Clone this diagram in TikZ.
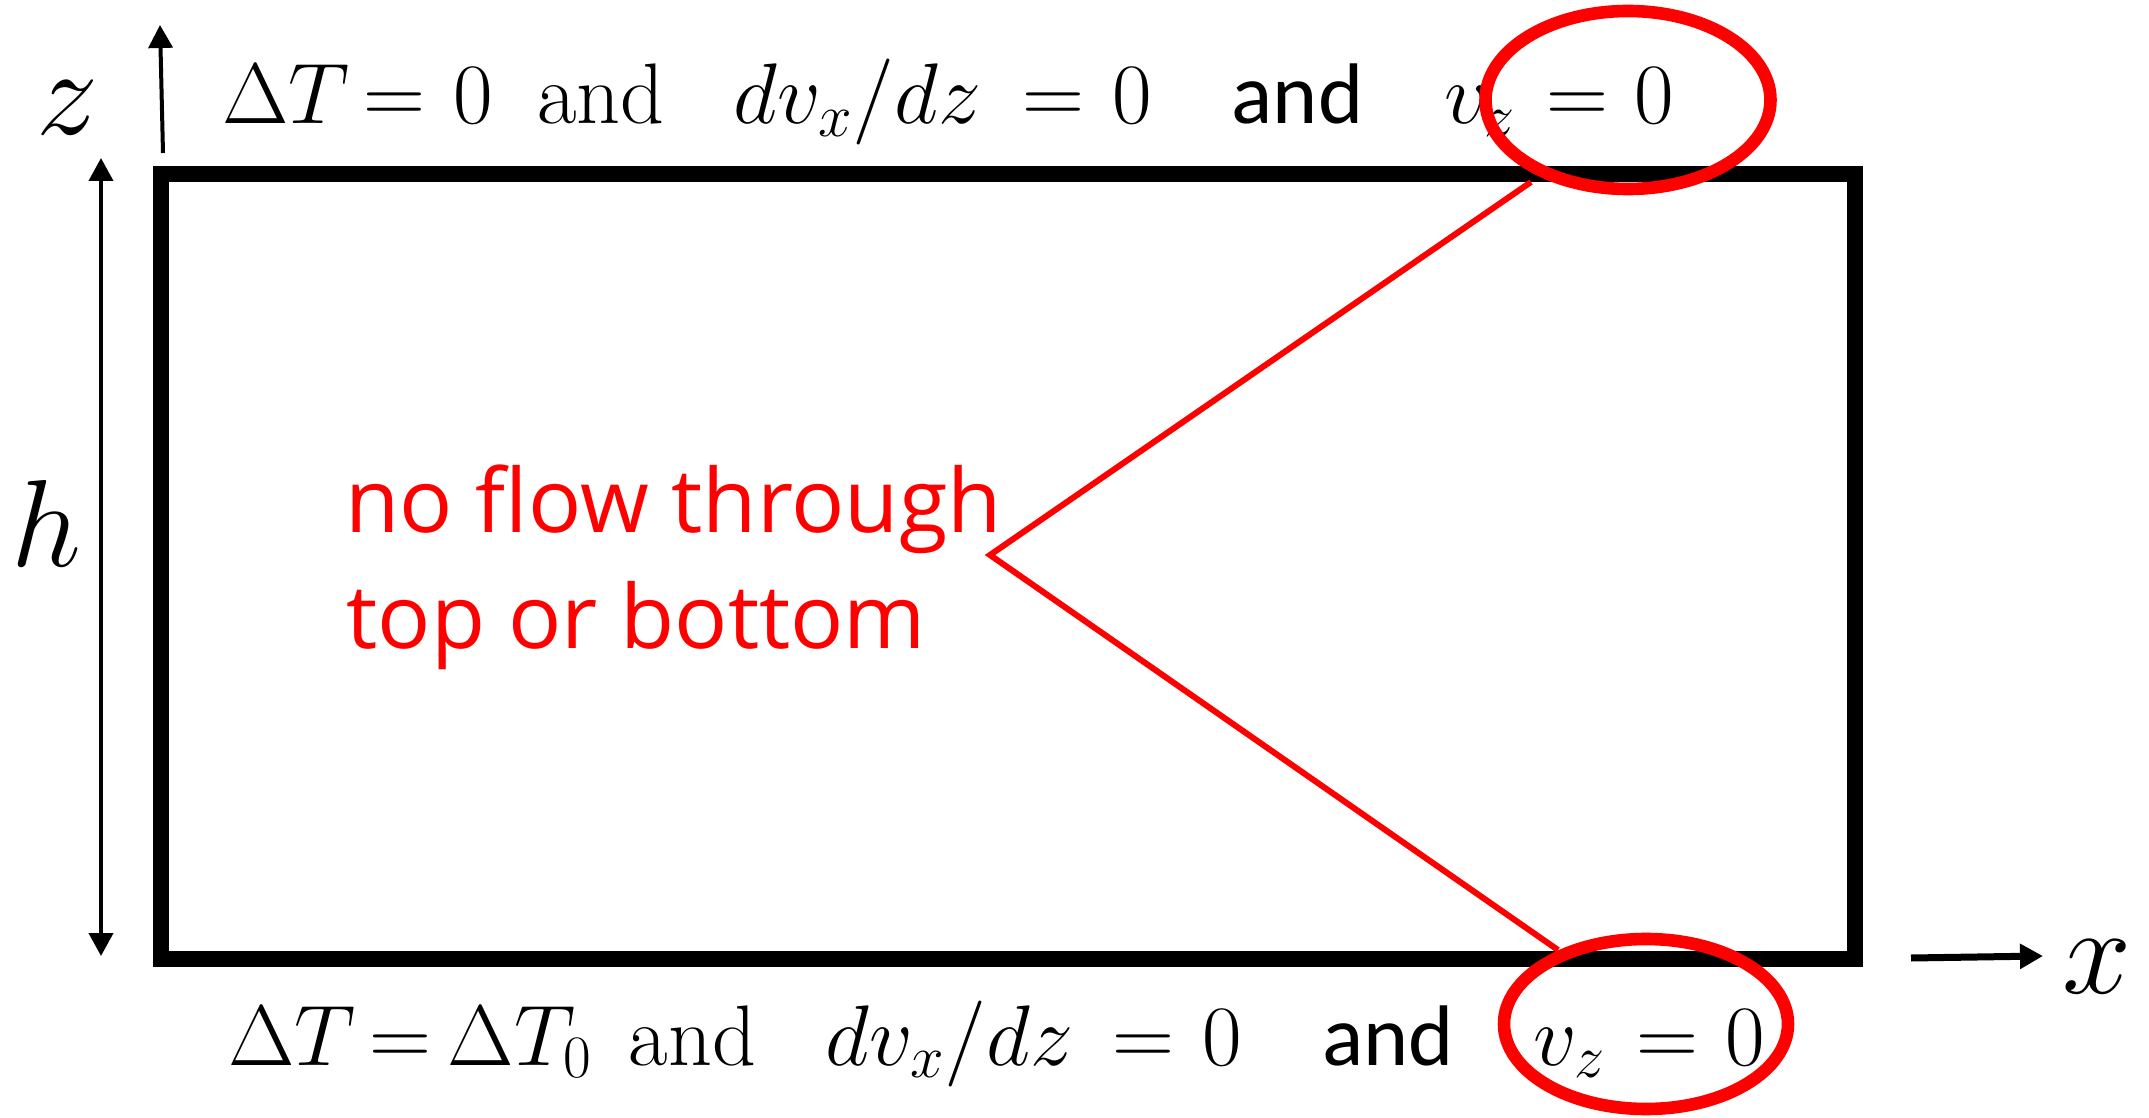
\RequirePackage{fix-cm}
\documentclass[tikz,border=0pt]{standalone}
\usepackage[no-math]{fontspec}
\newfontfamily\andfont{Carlito}
\newfontfamily\redfont{Open Sans}
\usetikzlibrary{arrows.meta}
\tikzset{
  eq/.style={inner sep=0pt, anchor=base, font=\fontsize{43}{50}\selectfont},
  sand/.style={inner sep=0pt, anchor=base, font=\andfont\fontsize{43}{50}\selectfont},
  lbl/.style={inner sep=0pt, anchor=base, font=\fontsize{62}{70}\selectfont},
  redtxt/.style={inner sep=0pt, anchor=base west, text=red, font=\redfont\fontsize{44.2}{58}\selectfont},
  wall/.style={line width=8pt, line join=miter},
  axis/.style={line width=2pt, -{Triangle[length=11.5pt,width=12pt]}},
  axisboth/.style={line width=2pt, {Triangle[length=11.5pt,width=12pt]}-{Triangle[length=11.5pt,width=12pt]}},
  xaxis/.style={line width=3.5pt, -{Triangle[length=11.5pt,width=12pt]}},
  redline/.style={red, line width=3pt, line join=miter},
  ring/.style={red, line width=6.3pt}
}
\begin{document}
\begin{tikzpicture}[x=0.5pt,y=-0.5pt]
\fill[white] (0,0) rectangle (2149,1118);
\useasboundingbox (0,0) rectangle (2149,1118);

% box
\coordinate (bl) at (161,959);
\coordinate (tr) at (1855,174);
\draw[wall] (bl) rectangle (tr);

% axes
\coordinate (zs) at (163,153);
\coordinate (ze) at (160,25);
\draw[axis] (zs) -- (ze);
\coordinate (hs) at (101,158);
\coordinate (he) at (101,956);
\draw[axisboth] (hs) -- (he);
\coordinate (xs) at (1911,958);
\coordinate (xe) at (2043,956);
\draw[xaxis] (xs) -- (xe);

\node[lbl] (zl) at (67,135) {$z$};
\node[lbl] (hl) at (46,566) {$h$};
\node[lbl] (xl) at (2097,993) {$x$};

% top line
\node[eq] (t1) at (286,124) {$\Delta T$};
\node[eq] (t2) at (394.5,124) {$=$};
\node[eq] (t3) at (473.5,124) {$0$};
\node[eq] (t4) at (601,124) {and};
\node[eq] (t5) at (857.5,124) {$dv_x/dz$};
\node[eq] (t6) at (1053,124) {$=$};
\node[eq] (t7) at (1132,124) {$0$};
\node[sand] (t8) at (1297.5,124) {and};
\node[eq] (t9) at (1480,124) {$v_z$};
\node[eq] (t10) at (1577.5,124) {$=$};
\node[eq] (t11) at (1654,124) {$0$};

% bottom line
\node[eq] (b1) at (292,1065) {$\Delta T$};
\node[eq] (b2) at (400,1065) {$=$};
\node[eq] (b3) at (520,1065) {$\Delta T_0$};
\node[eq] (b4) at (692.5,1065) {and};
\node[eq] (b5) at (949.5,1065) {$dv_x/dz$};
\node[eq] (b6) at (1143.5,1065) {$=$};
\node[eq] (b7) at (1222,1065) {$0$};
\node[sand] (b8) at (1388,1065) {and};
\node[eq] (b9) at (1569.5,1065) {$v_z$};
\node[eq] (b10) at (1667.5,1065) {$=$};
\node[eq] (b11) at (1745.5,1065) {$0$};

% red annotations
\node[redtxt] (r1) at (345,532) {no flow through};
\node[redtxt] (r2) at (346,648) {top or bottom};

\coordinate (etop) at (1628,100);
\coordinate (ebot) at (1646,1024);
\draw[ring] (etop) ellipse [x radius=71.25pt, y radius=44.5pt];
\draw[ring] (ebot) ellipse [x radius=71pt, y radius=42.5pt];

\coordinate (ptop) at (1531,182);
\coordinate (pv) at (990,555);
\coordinate (pbot) at (1558,950);
\draw[redline] (ptop) -- (pv) -- (pbot);
\end{tikzpicture}
\end{document}
